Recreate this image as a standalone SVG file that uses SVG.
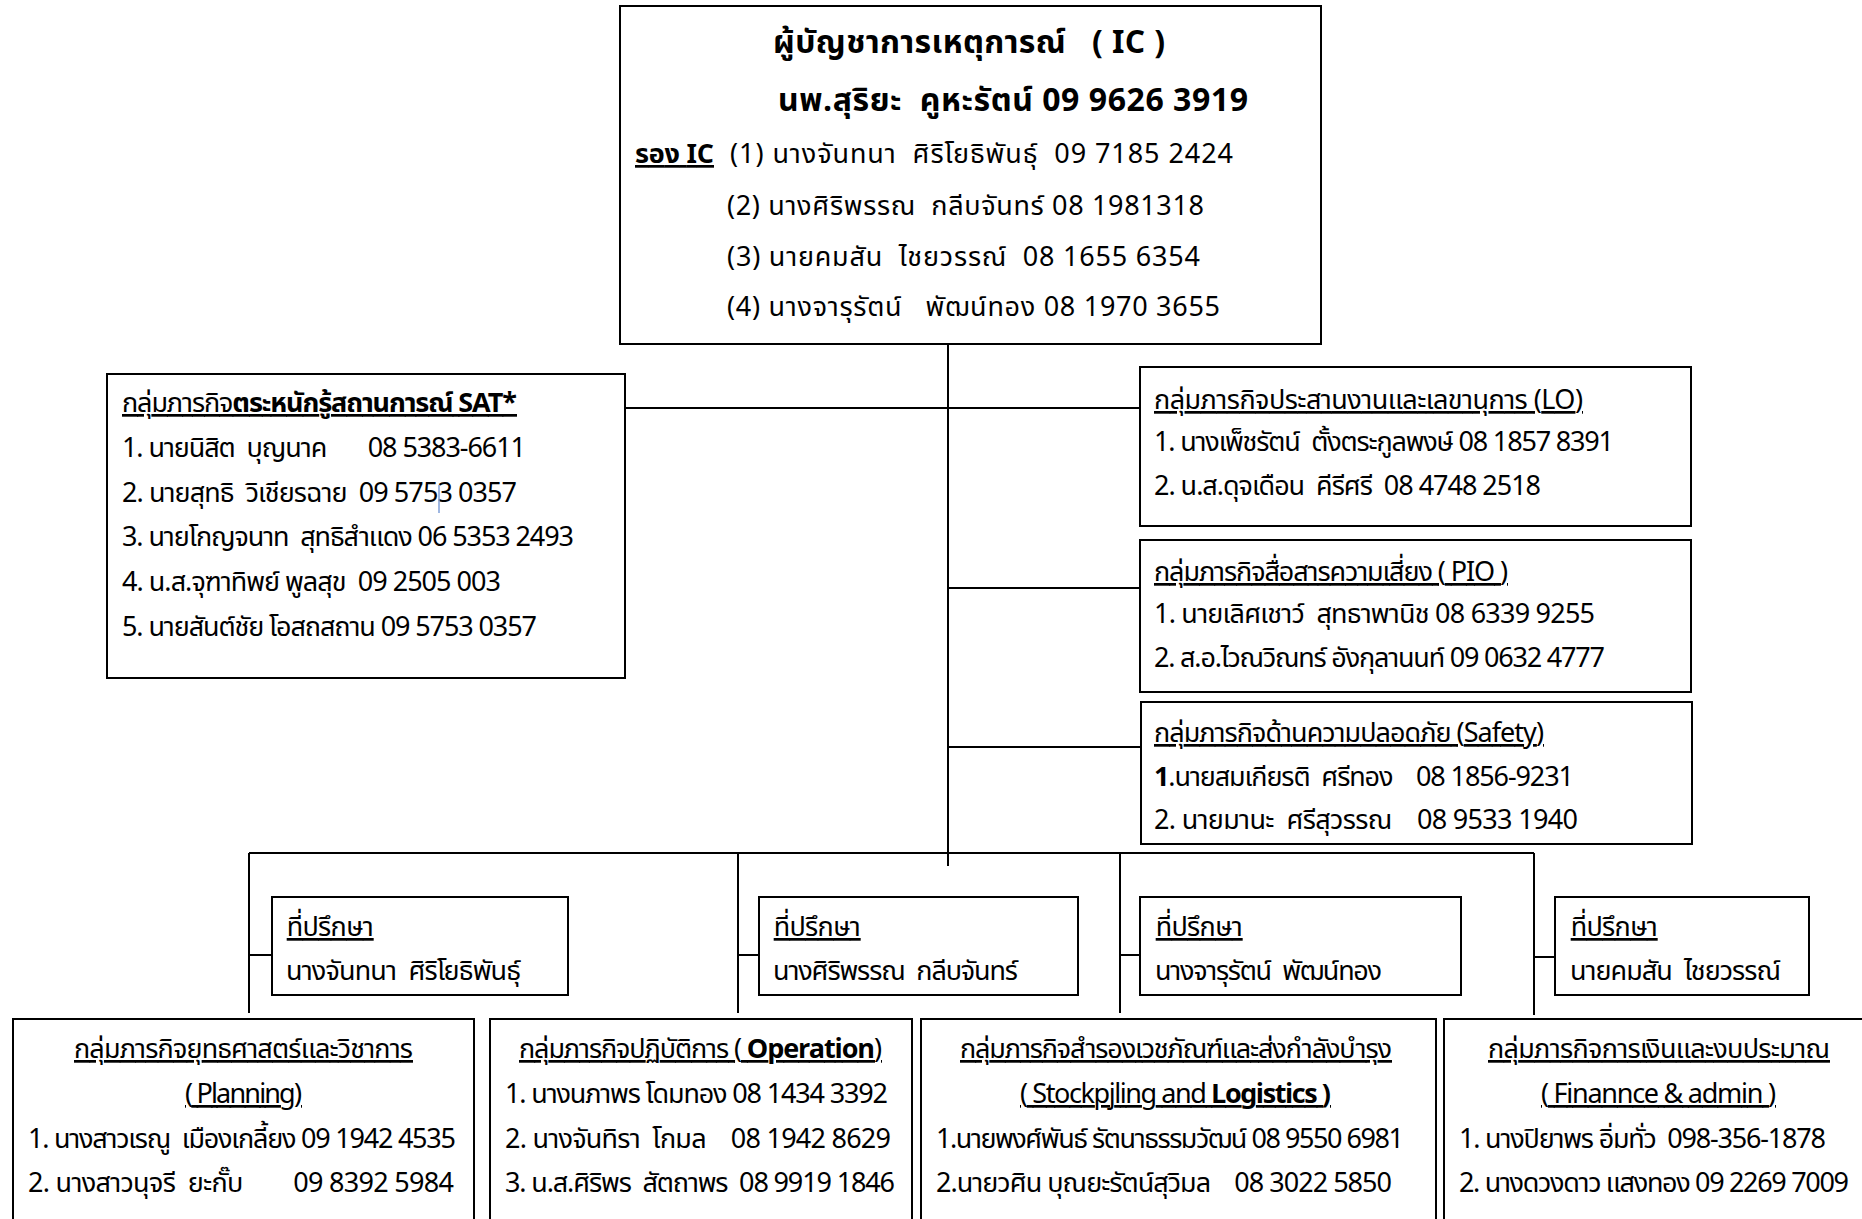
<svg xmlns="http://www.w3.org/2000/svg" width="1862" height="1219" viewBox="0 0 1862 1219">
<style>
text{font-family:"Noto Sans Thai","Noto Sans",sans-serif;font-size:27px;fill:#000;white-space:pre}
.t{font-size:32px;font-weight:bold}
.b{font-weight:bold}
.u{text-decoration:underline}
rect{fill:#fff;stroke:#000;stroke-width:2}
#conn path{fill:none;stroke:#000;stroke-width:2}
</style>
<rect x="0" y="0" width="1862" height="1219" style="stroke:none"/>
<g id="conn">
<path d="M948 344V866"/>
<path d="M625 408H1140"/>
<path d="M948 588H1140"/>
<path d="M948 747H1141"/>
<path d="M249 853H1534"/>
<path d="M249 853V1013M738 853V1013M1120 853V1013M1534 853V1015"/>
<path d="M249 955H272M738 955H759M1120 955H1140M1534 957H1555"/>
</g>
<g id="ic">
<rect x="620" y="6" width="701" height="338"/>
<text class="t" x="773" y="53" textLength="392" xml:space="preserve">ผู้บัญชาการเหตุการณ์   ( IC )</text>
<text class="t" x="778" y="111" textLength="470" xml:space="preserve">นพ.สุริยะ  คูหะรัตน์ 09 9626 3919</text>
<text x="635" y="163" class="b u" textLength="79">รอง IC</text>
<text x="730" y="163" textLength="503" xml:space="preserve">(1) นางจันทนา  ศิริโยธิพันธุ์  09 7185 2424</text>
<text x="727" y="215" textLength="477" xml:space="preserve">(2) นางศิริพรรณ  กลีบจันทร์ 08 1981318</text>
<text x="727" y="266" textLength="473" xml:space="preserve">(3) นายคมสัน  ไชยวรรณ์  08 1655 6354</text>
<text x="727" y="316" textLength="493" xml:space="preserve">(4) นางจารุรัตน์   พัฒน์ทอง 08 1970 3655</text>
</g>
<g id="sat">
<rect x="107" y="374" width="518" height="304"/>
<text x="122" y="412" class="u" textLength="395">กลุ่มภารกิจ<tspan class="b">ตระหนักรู้สถานการณ์ SAT*</tspan></text>
<text x="122" y="457" textLength="404" xml:space="preserve">1. นายนิสิต  บุญนาค       08 5383-6611</text>
<text x="122" y="502" textLength="395" xml:space="preserve">2. นายสุทธิ  วิเชียรฉาย  09 5753 0357</text>
<text x="122" y="546" textLength="452" xml:space="preserve">3. นายโกญจนาท  สุทธิสำแดง 06 5353 2493</text>
<text x="122" y="591" textLength="379" xml:space="preserve">4. น.ส.จุฑาทิพย์ พูลสุข  09 2505 003</text>
<text x="122" y="636" textLength="415" xml:space="preserve">5. นายสันต์ชัย โอสถสถาน 09 5753 0357</text>
<path d="M439 485V513" stroke="#7f9fd8" stroke-width="1.5"/>
</g>
<g id="lo">
<rect x="1140" y="367" width="551" height="159"/>
<text x="1154" y="409" class="u" textLength="429">กลุ่มภารกิจประสานงานและเลขานุการ (LO)</text>
<text x="1154" y="451" textLength="460" xml:space="preserve">1. นางเพ็ชรัตน์  ตั้งตระกูลพงษ์ 08 1857 8391</text>
<text x="1154" y="495" textLength="387" xml:space="preserve">2. น.ส.ดุจเดือน  คีรีศรี  08 4748 2518</text>
</g>
<g id="pio">
<rect x="1140" y="540" width="551" height="152"/>
<text x="1154" y="581" class="u" textLength="354">กลุ่มภารกิจสื่อสารความเสี่ยง ( PIO )</text>
<text x="1154" y="623" textLength="441" xml:space="preserve">1. นายเลิศเชาว์  สุทธาพานิช 08 6339 9255</text>
<text x="1154" y="667" textLength="451">2. ส.อ.ไวณวิณทร์ อังกุลานนท์ 09 0632 4777</text>
</g>
<g id="safety">
<rect x="1141" y="702" width="551" height="142"/>
<text x="1154" y="742" class="u" textLength="390">กลุ่มภารกิจด้านความปลอดภัย (Safety)</text>
<text x="1154" y="786" textLength="420" xml:space="preserve"><tspan class="b">1</tspan>.นายสมเกียรติ  ศรีทอง    08 1856-9231</text>
<text x="1154" y="829" textLength="424" xml:space="preserve">2. นายมานะ  ศรีสุวรรณ    08 9533 1940</text>
</g>
<g id="adv1">
<rect x="272" y="897" width="296" height="98"/>
<text x="286" y="936" class="u" textLength="87">ที่ปรึกษา</text>
<text x="286" y="980" textLength="235" xml:space="preserve">นางจันทนา  ศิริโยธิพันธุ์</text>
</g>
<g id="adv2">
<rect x="759" y="897" width="319" height="98"/>
<text x="773" y="936" class="u" textLength="87">ที่ปรึกษา</text>
<text x="773" y="980" textLength="245" xml:space="preserve">นางศิริพรรณ  กลีบจันทร์</text>
</g>
<g id="adv3">
<rect x="1140" y="897" width="321" height="98"/>
<text x="1155" y="936" class="u" textLength="87">ที่ปรึกษา</text>
<text x="1155" y="980" textLength="227" xml:space="preserve">นางจารุรัตน์  พัฒน์ทอง</text>
</g>
<g id="adv4">
<rect x="1555" y="897" width="254" height="98"/>
<text x="1570" y="936" class="u" textLength="87">ที่ปรึกษา</text>
<text x="1570" y="980" textLength="211" xml:space="preserve">นายคมสัน  ไชยวรรณ์</text>
</g>
<g id="planning">
<rect x="13" y="1019" width="461" height="220"/>
<text x="74" y="1058" class="u" textLength="339">กลุ่มภารกิจยุทธศาสตร์และวิชาการ</text>
<text x="185" y="1103" class="u" textLength="117">( Planning)</text>
<text x="28" y="1148" textLength="428" xml:space="preserve">1. นางสาวเรณู  เมืองเกลี้ยง 09 1942 4535</text>
<text x="28" y="1192" textLength="426" xml:space="preserve">2. นางสาวนุจรี  ยะกั๊บ        09 8392 5984</text>
</g>
<g id="operation">
<rect x="490" y="1019" width="422" height="220"/>
<text x="519" y="1058" class="u" textLength="363">กลุ่มภารกิจปฏิบัติการ ( <tspan class="b">Operation</tspan>)</text>
<text x="505" y="1103" textLength="383">1. นางนภาพร โดมทอง 08 1434 3392</text>
<text x="505" y="1148" textLength="386" xml:space="preserve">2. นางจันทิรา  โกมล    08 1942 8629</text>
<text x="505" y="1192" textLength="390" xml:space="preserve">3. น.ส.ศิริพร  สัตถาพร  08 9919 1846</text>
</g>
<g id="logistics">
<rect x="921" y="1019" width="515" height="220"/>
<text x="960" y="1058" class="u" textLength="432">กลุ่มภารกิจสำรองเวชภัณฑ์และส่งกำลังบำรุง</text>
<text x="1020" y="1103" class="u" textLength="311">( Stockpjling and <tspan class="b">Logistics )</tspan></text>
<text x="936" y="1148" textLength="468">1.นายพงศ์พันธ์ รัตนาธรรมวัฒน์ 08 9550 6981</text>
<text x="936" y="1192" textLength="456" xml:space="preserve">2.นายวศิน บุณยะรัตน์สุวิมล    08 3022 5850</text>
</g>
<g id="finance">
<rect x="1444" y="1019" width="440" height="220"/>
<text x="1488" y="1058" class="u" textLength="342">กลุ่มภารกิจการเงินและงบประมาณ</text>
<text x="1541" y="1103" class="u" textLength="235">( Finannce &amp; admin )</text>
<text x="1459" y="1148" textLength="367" xml:space="preserve">1. นางปิยาพร อิ่มทั่ว  098-356-1878</text>
<text x="1459" y="1192" textLength="390">2. นางดวงดาว แสงทอง 09 2269 7009</text>
</g>
</svg>
